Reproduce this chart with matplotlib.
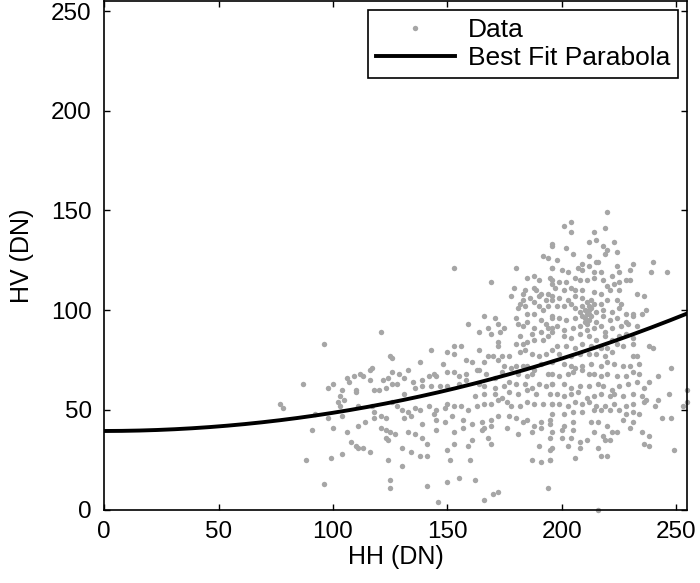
import numpy as np
import matplotlib
matplotlib.use("Agg")
import matplotlib.pyplot as plt

plt.rcParams['font.family'] = ['Liberation Sans', 'DejaVu Sans']

# (HH, HV) samples, grouped by region
pts_low_hh = [
    (121, 89), (96, 83), (125, 77), (126, 76), (117, 71), (116, 70), (112, 68), (113, 67),
    (109, 67), (106, 66), (107, 64), (126, 69), (124, 66), (122, 65), (87, 63), (98, 61),
    (100, 63), (104, 60), (110, 60), (110, 59), (116, 65), (118, 60), (120, 60), (123, 61),
    (126, 63), (103, 57), (105, 55), (102, 54), (103, 52), (77, 53), (78, 51), (111, 52),
    (117, 52), (126, 54), (92, 48), (98, 46), (104, 47), (118, 49), (121, 47), (123, 46),
    (118, 46), (91, 40), (100, 41), (106, 39), (111, 42), (114, 44), (121, 41), (123, 40),
    (125, 39), (123, 36), (124, 35), (108, 34), (110, 32), (111, 31), (113, 31), (116, 29),
    (104, 28), (99, 26), (88, 25), (124, 25), (96, 13), (125, 15), (125, 11),
]

pts_mid_high = [
    (196, 132), (192, 127), (194, 126), (196, 121), (153, 121), (180, 121), (169, 114),
    (185, 116), (188, 117), (190, 115), (195, 116), (196, 113), (179, 111), (178, 107),
    (184, 110), (183, 108), (188, 111), (189, 110), (191, 108), (194, 108), (183, 105),
    (182, 103), (184, 102), (186, 106), (188, 104), (190, 107), (193, 105), (196, 105),
    (181, 101), (185, 98), (188, 98), (190, 102), (192, 100), (194, 102), (166, 97),
    (171, 96), (159, 93), (172, 93), (175, 91), (168, 91), (169, 88), (164, 89), (173, 89),
    (180, 96), (181, 93), (183, 92), (185, 94), (188, 91), (191, 95), (193, 93), (196, 96),
    (187, 88), (191, 89), (194, 91), (196, 89), (143, 80), (150, 79), (153, 82), (153, 78),
    (156, 82), (164, 80), (172, 84), (172, 82), (180, 83), (182, 87), (183, 83), (185, 84),
    (188, 85), (192, 85), (194, 87), (168, 77), (170, 77), (174, 77), (177, 77), (182, 79),
    (184, 80), (187, 78), (190, 77), (193, 78), (196, 80),
]

pts_mid_low = [
    (138, 74), (148, 73), (158, 75), (161, 74), (166, 74), (172, 75), (175, 72), (180, 72),
    (185, 72), (191, 73), (129, 68), (133, 70), (131, 66), (135, 64), (139, 65), (142, 67),
    (144, 68), (145, 67), (150, 69), (153, 69), (155, 67), (158, 68), (163, 70), (164, 70),
    (167, 68), (171, 66), (174, 69), (178, 71), (181, 68), (183, 72), (185, 67), (187, 68),
    (188, 70), (194, 68), (196, 63), (128, 63), (131, 58), (136, 61), (139, 62), (143, 62),
    (147, 62), (150, 62), (155, 63), (158, 65), (164, 63), (166, 62), (171, 61), (175, 62),
    (177, 64), (180, 63), (184, 63), (187, 61), (190, 63), (193, 62), (162, 57), (166, 58),
    (171, 58), (174, 56), (177, 59), (181, 58), (185, 60), (189, 58), (195, 58), (128, 52),
    (130, 50), (133, 49), (136, 51), (138, 50), (142, 52), (145, 50), (144, 48), (149, 51),
    (150, 53), (153, 52), (156, 52), (159, 50), (163, 52), (166, 53), (169, 53), (172, 55),
    (176, 54), (178, 52), (182, 52), (185, 54), (188, 53), (192, 53), (196, 53), (131, 46),
    (134, 47), (139, 43), (145, 45), (149, 44), (152, 47), (157, 45), (161, 43), (165, 44),
    (169, 45), (172, 47), (177, 47), (180, 46), (183, 44), (185, 45), (188, 42), (191, 44),
    (195, 45), (127, 38), (133, 39), (136, 38), (139, 36), (141, 33), (145, 40), (153, 39),
    (157, 41), (161, 35), (166, 41), (168, 36), (169, 33), (176, 41), (181, 38), (187, 39),
    (191, 41), (196, 39), (130, 31), (134, 29), (138, 27), (141, 27), (150, 30), (153, 33),
    (159, 32), (165, 40), (169, 42), (190, 32), (195, 30), (151, 25), (160, 25), (187, 25),
    (191, 24), (195, 25), (130, 22), (141, 12), (150, 14), (155, 16), (162, 15), (194, 11),
    (146, 4), (166, 5), (170, 8), (172, 9),
]

pts_high_top = [
    (220, 149), (201, 142), (204, 144), (204, 139), (214, 139), (219, 141), (196, 133),
    (202, 131), (212, 134), (215, 135), (218, 132), (223, 134), (220, 130), (205, 128),
    (212, 127), (219, 128), (224, 129), (198, 125), (215, 124), (216, 124), (209, 123),
    (240, 124), (239, 119), (246, 119), (231, 123), (230, 120), (196, 121), (200, 120),
    (203, 119), (207, 121), (209, 120), (212, 122), (214, 119), (217, 119), (222, 117),
    (224, 122), (225, 119), (228, 115), (230, 115), (196, 115), (199, 114), (202, 114),
    (206, 116), (208, 115), (211, 115), (214, 116), (218, 115), (220, 112), (223, 113),
    (225, 114), (197, 111), (201, 110), (204, 111), (206, 110), (209, 110), (214, 109),
    (217, 108), (221, 110), (225, 110), (233, 108), (236, 107), (196, 107), (199, 106),
    (203, 105), (206, 107), (209, 106), (211, 104), (213, 105), (217, 103), (220, 105),
    (224, 105), (226, 103), (198, 102), (201, 102), (204, 103), (206, 101), (209, 102),
    (212, 102), (215, 99), (218, 100), (222, 99), (225, 101), (228, 98), (231, 98),
    (237, 100), (235, 98), (196, 97), (199, 96), (202, 95), (206, 96), (209, 97), (212, 98),
    (212, 95), (215, 94), (218, 97), (221, 95), (224, 96), (228, 94), (231, 97), (196, 91),
    (198, 92), (201, 90), (205, 91), (208, 92), (211, 90), (214, 91), (217, 92), (219, 89),
    (222, 91), (226, 92), (229, 93), (233, 92), (201, 87), (204, 86), (208, 88), (212, 87),
    (215, 85), (219, 87), (222, 85), (225, 87), (228, 88), (231, 86), (198, 82), (202, 82),
    (206, 81), (209, 83), (213, 82), (217, 81), (220, 81), (224, 83), (227, 82), (231, 83),
    (238, 82), (240, 81), (199, 78), (204, 77), (208, 78), (212, 78), (215, 78), (219, 77),
    (222, 79), (231, 77), (233, 77),
    # dense clump around HH~211, HV~98
    (210, 100), (211, 98), (213, 101), (210, 96), (213, 97), (211, 93), (214, 103),
    (208, 99), (212, 100), (210, 94),
]

pts_high_low = [
    (196, 74), (201, 73), (204, 72), (206, 71), (209, 72), (213, 73), (217, 72), (220, 74),
    (223, 73), (227, 72), (230, 72), (234, 73), (248, 71), (196, 68), (199, 67), (203, 68),
    (205, 69), (209, 70), (212, 68), (214, 68), (217, 67), (220, 68), (224, 67), (228, 67),
    (231, 69), (234, 68), (238, 64), (242, 67), (196, 63), (201, 63), (204, 61), (208, 62),
    (212, 62), (216, 63), (218, 62), (222, 60), (225, 62), (229, 63), (233, 64), (236, 61),
    (255, 60), (198, 58), (201, 57), (204, 58), (207, 59), (211, 56), (214, 57), (217, 58),
    (221, 57), (223, 58), (227, 57), (231, 58), (235, 57), (237, 55), (242, 55), (247, 58),
    (196, 53), (199, 53), (203, 52), (206, 54), (209, 53), (212, 54), (215, 52), (219, 52),
    (223, 53), (228, 52), (231, 53), (236, 54), (241, 52), (255, 54), (253, 52), (196, 48),
    (201, 48), (205, 49), (209, 49), (214, 50), (217, 50), (221, 50), (225, 50), (228, 48),
    (231, 49), (234, 48), (244, 46), (248, 46), (195, 43), (201, 42), (205, 44), (213, 44),
    (216, 44), (220, 42), (227, 45), (231, 44), (200, 40), (205, 40), (214, 39), (222, 39),
    (224, 39), (230, 41), (235, 39), (238, 37), (195, 36), (200, 36), (204, 36), (208, 34),
    (211, 35), (218, 37), (219, 35), (221, 35), (236, 33), (238, 32), (196, 31), (203, 32),
    (208, 31), (216, 31), (249, 30), (195, 25), (206, 26), (217, 27), (220, 27), (216, 0),
]

# best fit parabola coefficients (highest power first)
fit_coef = [0.000903, 0.001, 39.4]

pts = pts_low_hh + pts_mid_high + pts_mid_low + pts_high_top + pts_high_low
hh = np.array([p[0] for p in pts], dtype=float)
hv = np.array([p[1] for p in pts], dtype=float)

fig = plt.figure(figsize=(7.0, 5.83), dpi=100)
ax = fig.add_axes([0.149, 0.126, 0.833, 0.872])

ax.plot(hh, hv, 'o', color='#a6a6a6', markersize=3.9, markeredgewidth=0,
        label='Data', zorder=2, clip_on=False)
xf = np.linspace(0, 255, 300)
ax.plot(xf, np.polyval(fit_coef, xf), color='black', linewidth=2.8,
        label='Best Fit Parabola', zorder=3)

ax.set_xlim(0, 255)
ax.set_ylim(0, 255)
ax.set_xticks([0, 50, 100, 150, 200, 250])
ax.set_yticks([0, 50, 100, 150, 200, 250])
ax.tick_params(direction='in', top=True, right=True, length=4, width=1.0,
               labelsize=17.5)
ax.tick_params(axis='x', pad=8)
ax.tick_params(axis='y', pad=9)
for s in ax.spines.values():
    s.set_linewidth(1.2)

ax.set_xlabel('HH (DN)', fontsize=18, labelpad=2)
ax.set_ylabel('HV (DN)', fontsize=18, labelpad=12)

leg = ax.legend(loc='upper right', fontsize=19, numpoints=1, fancybox=False,
                edgecolor='black', framealpha=1, handlelength=3.0,
                borderaxespad=0.35, labelspacing=0.15, handletextpad=0.5,
                borderpad=0.3)
leg.get_frame().set_linewidth(1.2)

fig.savefig('out.png', dpi=100)
